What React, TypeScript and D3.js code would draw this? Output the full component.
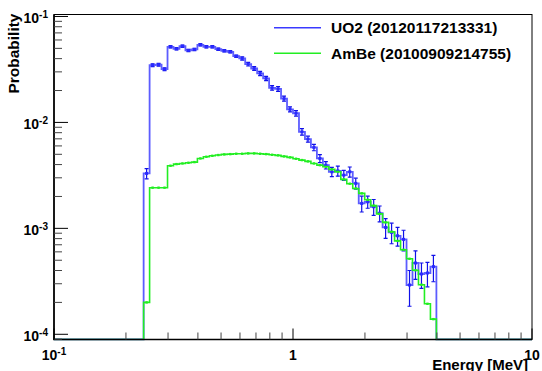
import React, { useEffect, useRef } from 'react';
import { select, scaleLog, line } from 'd3';

// histogram binning: 80 log bins between 0.1 and 10 MeV, first filled bin is #15
const nBins = 80;
const eMin = 0.1;
const eMax = 10;
const firstBin = 15;

// UO2 (20120117213331), probability per bin
const uo2 = [
  3.3e-3, 0.0347, 0.0351, 0.0318, 0.0517, 0.0495, 0.0525, 0.0478, 0.0489, 0.054,
  0.0517, 0.0517, 0.0492, 0.0474, 0.0464, 0.0422, 0.0402, 0.0355, 0.0323, 0.029,
  0.026, 0.0212, 0.0207, 0.0168, 0.0133, 0.0122, 8.15e-3, 6.96e-3, 5.81e-3, 4.57e-3,
  3.95e-3, 3.42e-3, 3.49e-3, 3.18e-3, 3.42e-3, 2.66e-3, 1.72e-3, 1.78e-3, 1.6e-3, 1.39e-3,
  1.02e-3, 9.17e-4, 8.51e-4, 7.87e-4, 2.92e-4, 4.71e-4, 3.71e-4, 3.79e-4, 4.35e-4,
];
// relative statistical errors of the UO2 bins
const uo2Err = [
  0.11, 0.03, 0.03, 0.03, 0.025, 0.025, 0.025, 0.025, 0.025, 0.025,
  0.025, 0.025, 0.025, 0.025, 0.025, 0.025, 0.035, 0.04, 0.04, 0.045,
  0.045, 0.05, 0.05, 0.055, 0.055, 0.06, 0.07, 0.065, 0.07, 0.085,
  0.08, 0.1, 0.11, 0.11, 0.11, 0.12, 0.17, 0.13, 0.17, 0.17,
  0.21, 0.22, 0.2, 0.22, 0.37, 0.3, 0.27, 0.26, 0.28,
];
// AmBe (20100909214755)
const ambe = [
  2.0e-4, 2.42e-3, 2.42e-3, 2.42e-3, 3.9e-3, 4.04e-3, 4.1e-3, 4.16e-3, 4.22e-3, 4.57e-3,
  4.74e-3, 4.84e-3, 4.92e-3, 4.99e-3, 5.02e-3, 5.06e-3, 5.06e-3, 5.1e-3, 5.1e-3, 5.06e-3,
  5.02e-3, 4.95e-3, 4.89e-3, 4.78e-3, 4.68e-3, 4.54e-3, 4.41e-3, 4.29e-3, 4.1e-3, 3.95e-3,
  3.81e-3, 3.6e-3, 3.42e-3, 2.9e-3, 2.64e-3, 2.38e-3, 2.14e-3, 1.86e-3, 1.64e-3, 1.37e-3,
  1.14e-3, 9.29e-4, 7.62e-4, 6.28e-4, 5.16e-4, 4.02e-4, 2.94e-4, 1.94e-4, 1.39e-4,
];

const legendLabels = ['UO2 (20120117213331)', 'AmBe (20100909214755)'];
const yDomain = [8.93e-5, 0.1044];

const App = () => {
  const svgRef = useRef<SVGSVGElement>(null);

  useEffect(() => {
    const svg = select(svgRef.current);
    svg.selectAll('*').remove();

    const fr = { left: 54, right: 532, top: 14.5, bottom: 339.5 };
    const font = "'Liberation Sans', Arial, Helvetica, sans-serif";

    const x = scaleLog().domain([eMin, eMax]).range([fr.left, fr.right]);
    const y = scaleLog().domain(yDomain).range([fr.bottom, fr.top]);
    const edge = (i: number) => eMin * Math.pow(eMax / eMin, i / nBins);
    const center = (i: number) => Math.sqrt(edge(i) * edge(i + 1));

    svg.append('rect').attr('width', 542).attr('height', 371).attr('fill', '#fff');

    svg
      .append('clipPath')
      .attr('id', 'frameclip')
      .append('rect')
      .attr('x', fr.left)
      .attr('y', fr.top)
      .attr('width', fr.right - fr.left)
      .attr('height', fr.bottom - fr.top + 1);

    const plot = svg.append('g').attr('clip-path', 'url(#frameclip)');

    // histogram outline (empty bins sit on the bottom of the frame)
    const histPath = (vals: number[]) => {
      const pts: [number, number][] = [[fr.left, fr.bottom]];
      pts.push([x(edge(firstBin)), fr.bottom]);
      vals.forEach((v, i) => {
        pts.push([x(edge(firstBin + i)), y(v)], [x(edge(firstBin + i + 1)), y(v)]);
      });
      pts.push([x(edge(firstBin + vals.length)), fr.bottom], [fr.right, fr.bottom]);
      return line()(pts);
    };

    // UO2
    plot
      .append('path')
      .attr('d', histPath(uo2))
      .attr('fill', 'none')
      .attr('stroke', '#5c5cff')
      .attr('stroke-width', 1.8);

    const errG = plot.append('g').attr('stroke', '#1010e8').attr('stroke-width', 1.2);
    uo2.forEach((v, i) => {
      const cx = x(center(firstBin + i));
      const hi = y(v * (1 + uo2Err[i]));
      const lo = y(v * (1 - uo2Err[i]));
      errG.append('line').attr('x1', cx).attr('x2', cx).attr('y1', hi).attr('y2', lo);
      errG.append('line').attr('x1', cx - 2).attr('x2', cx + 2).attr('y1', hi).attr('y2', hi);
      errG.append('line').attr('x1', cx - 2).attr('x2', cx + 2).attr('y1', lo).attr('y2', lo);
    });
    plot
      .selectAll('.uo2-mk')
      .data(uo2)
      .join('rect')
      .attr('class', 'uo2-mk')
      .attr('x', (v, i) => x(center(firstBin + i)) - 1.5)
      .attr('y', (v) => y(v) - 1.5)
      .attr('width', 3)
      .attr('height', 3)
      .attr('fill', '#2a2aff');

    // AmBe
    plot
      .append('path')
      .attr('d', histPath(ambe))
      .attr('fill', 'none')
      .attr('stroke', '#22ee22')
      .attr('stroke-width', 1.6);
    plot
      .selectAll('.ambe-mk')
      .data(ambe)
      .join('rect')
      .attr('class', 'ambe-mk')
      .attr('x', (v, i) => x(center(firstBin + i)) - 1.2)
      .attr('y', (v) => y(v) - 1.2)
      .attr('width', 2.4)
      .attr('height', 2.4)
      .attr('fill', '#22ee22');

    // frame
    svg
      .append('rect')
      .attr('x', fr.left)
      .attr('y', fr.top)
      .attr('width', fr.right - fr.left)
      .attr('height', fr.bottom - fr.top)
      .attr('fill', 'none')
      .attr('stroke', '#000')
      .attr('stroke-width', 1);
    svg
      .append('path')
      .attr('d', `M${fr.left},${fr.top}V${fr.bottom}H${fr.right}`)
      .attr('fill', 'none')
      .attr('stroke', '#000')
      .attr('stroke-width', 1.6);

    const isDecade = (v: number) => Math.abs(Math.log10(v) - Math.round(Math.log10(v))) < 1e-6;

    // y axis ticks, drawn inside the frame
    y.ticks().forEach((t) => {
      const major = isDecade(t);
      svg
        .append('line')
        .attr('x1', fr.left)
        .attr('x2', fr.left + (major ? 14 : 8))
        .attr('y1', y(t))
        .attr('y2', y(t))
        .attr('stroke', major ? '#000' : '#444')
        .attr('stroke-width', 1);
      if (major) {
        const lbl = svg
          .append('text')
          .attr('x', 48)
          .attr('y', y(t) + 7)
          .attr('text-anchor', 'end')
          .attr('font-family', font)
          .attr('font-weight', 'bold')
          .attr('font-size', 14)
          .attr('fill', '#000');
        lbl.append('tspan').text('10');
        lbl
          .append('tspan')
          .attr('dy', -5)
          .attr('font-size', 10)
          .text(String(Math.round(Math.log10(t))));
      }
    });

    // x axis ticks
    x.ticks().forEach((t) => {
      const major = isDecade(t);
      svg
        .append('line')
        .attr('x1', x(t))
        .attr('x2', x(t))
        .attr('y1', fr.bottom)
        .attr('y2', fr.bottom - (major ? 11 : 7))
        .attr('stroke', major ? '#000' : '#444')
        .attr('stroke-width', 1);
      if (major) {
        const e = Math.round(Math.log10(t));
        const lbl = svg
          .append('text')
          .attr('x', x(t))
          .attr('y', 360)
          .attr('text-anchor', 'middle')
          .attr('font-family', font)
          .attr('font-weight', 'bold')
          .attr('font-size', 14)
          .attr('fill', '#000');
        if (e < 0) {
          lbl.append('tspan').text('10');
          lbl.append('tspan').attr('dy', -5).attr('font-size', 10).text(String(e));
        } else {
          lbl.text(String(t));
        }
      }
    });

    // axis titles
    svg
      .append('text')
      .attr('transform', 'translate(18.5,13.5) rotate(-90)')
      .attr('text-anchor', 'end')
      .attr('font-family', font)
      .attr('font-weight', 'bold')
      .attr('font-size', 15.5)
      .text('Probability');
    svg
      .append('text')
      .attr('x', 528)
      .attr('y', 370)
      .attr('text-anchor', 'end')
      .attr('font-family', font)
      .attr('font-weight', 'bold')
      .attr('font-size', 15)
      .text('Energy [MeV]');

    // legend
    const legendColors = ['#3a3aff', '#22ee22'];
    const legendY = [27.7, 53.3];
    legendLabels.forEach((label, i) => {
      svg
        .append('line')
        .attr('x1', 274)
        .attr('x2', 321)
        .attr('y1', legendY[i])
        .attr('y2', legendY[i])
        .attr('stroke', legendColors[i])
        .attr('stroke-width', 1.5);
      svg
        .append('text')
        .attr('x', 331)
        .attr('y', legendY[i] + 5.5)
        .attr('font-family', font)
        .attr('font-weight', 'bold')
        .attr('font-size', 15.5)
        .attr('fill', '#000')
        .text(label);
    });
  }, []);

  return (
    <svg
      ref={svgRef}
      width={542}
      height={371}
      style={{ position: 'absolute', left: 0, top: 0 }}
    />
  );
};

export default App;
